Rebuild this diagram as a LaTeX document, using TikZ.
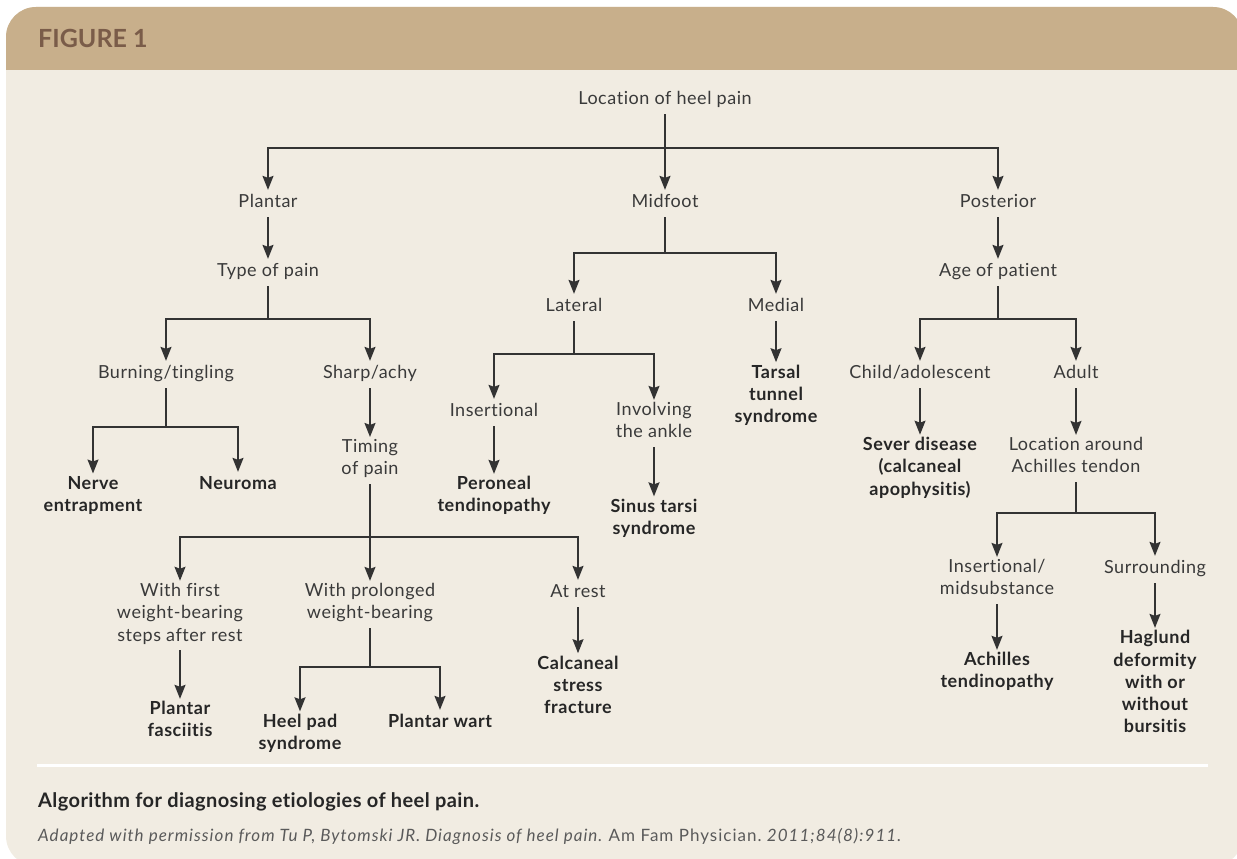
\documentclass[tikz,border=0pt]{standalone}
\usepackage{fontspec}
\setmainfont{Lato}[Ligatures=NoCommon]
\newfontfamily\nodefont{Lato}[LetterSpace=3, Ligatures=NoCommon]
\newfontfamily\capfont{Lato}[LetterSpace=2, Ligatures=NoCommon]
\newfontfamily\citefont{Lato}[LetterSpace=6, Ligatures=NoCommon]
\usetikzlibrary{arrows.meta}
\definecolor{bodybg}{HTML}{F1ECE2}
\definecolor{headbg}{HTML}{C8AF8B}
\definecolor{figc}{HTML}{7A5C49}
\definecolor{txt}{HTML}{3A3A3A}
\definecolor{txtb}{HTML}{262626}
\definecolor{lc}{HTML}{333333}
\definecolor{citec}{HTML}{5A5A5A}
\tikzset{
  n/.style={text=txt, font=\nodefont\fontsize{18}{22.3}\selectfont, align=center, inner sep=2.5pt, outer sep=0pt,
    yshift=-2.5pt, execute at begin node=\strut, execute at end node=\strut},
  nb/.style={n, font=\nodefont\bfseries\fontsize{18}{22.3}\selectfont, text=txtb},
  ln/.style={draw=lc, line width=1.5pt},
  ar/.style={ln, -{Stealth[length=14pt,width=11pt,inset=2pt]}},
}
\begin{document}
\begin{tikzpicture}[x=1pt,y=-1pt]
\useasboundingbox (0,0) rectangle (1237,859);
\clip (0,0) rectangle (1237,859);
% panel
\fill[bodybg, rounded corners=30pt] (6,7) rectangle (1243,866);
\begin{scope}
  \clip (0,0) rectangle (1237,70);
  \fill[headbg, rounded corners=30pt] (6,7) rectangle (1243,866);
\end{scope}
\node[anchor=base west, inner sep=0, text=figc, font=\bfseries\fontsize{25}{30}\selectfont] (fig) at (38,48) {FIGURE 1};
\draw[white, line width=3pt] (37,765) -- (1208,765);
\node[anchor=base west, inner sep=0, text=txtb, font=\capfont\bfseries\fontsize{20}{24}\selectfont] (cap) at (38,807) {Algorithm for diagnosing etiologies of heel pain.};
\node[anchor=base west, inner sep=0, text=citec, font=\citefont\fontsize{17}{20}\selectfont] (cite) at (38,841) {\textit{Adapted with permission from Tu P, Bytomski JR. Diagnosis of heel pain.}\ Am Fam Physician.\ \textit{2011;84(8):911.}};

% nodes
\node[n] (root) at (665,98) {Location of heel pain};
\node[n] (plantar) at (268,201) {Plantar};
\node[n] (midfoot) at (665,201) {Midfoot};
\node[n] (posterior) at (998,201) {Posterior};
\node[n] (type) at (268,270) {Type of pain};
\node[n] (burning) at (166,372) {Burning/tingling};
\node[n] (sharp) at (370,372) {Sharp/achy};
\node[nb] (nerve) at (93,494.5) {Nerve\\entrapment};
\node[nb] (neuroma) at (238,483) {Neuroma};
\node[n] (timing) at (370,458) {Timing\\of pain};
\node[n] (first) at (180,613) {With first\\weight-bearing\\steps after rest};
\node[n] (prolonged) at (370,602) {With prolonged\\weight-bearing};
\node[n] (atrest) at (578,591) {At rest};
\node[nb] (fasciitis) at (180,720) {Plantar\\fasciitis};
\node[nb] (heelpad) at (300,732.5) {Heel pad\\syndrome};
\node[nb] (wart) at (440,721) {Plantar wart};
\node[nb] (fracture) at (578,685.5) {Calcaneal\\stress\\fracture};
\node[n] (lateral) at (574,305) {Lateral};
\node[n] (medial) at (776,305) {Medial};
\node[n] (insertional) at (494,410) {Insertional};
\node[n] (ankle) at (654,421) {Involving\\the ankle};
\node[nb] (peroneal) at (494,495) {Peroneal\\tendinopathy};
\node[nb] (sinus) at (654,517.5) {Sinus tarsi\\syndrome};
\node[nb] (tarsal) at (776,394.5) {Tarsal\\tunnel\\syndrome};
\node[n] (age) at (998,270) {Age of patient};
\node[n] (child) at (920,372) {Child/adolescent};
\node[n] (adult) at (1076,372) {Adult};
\node[nb] (sever) at (920,467) {Sever disease\\(calcaneal\\apophysitis)};
\node[n] (locach) at (1076,456) {Location around\\Achilles tendon};
\node[n] (insmid) at (997,578) {Insertional/\\midsubstance};
\node[n] (surround) at (1155,567) {Surrounding};
\node[nb] (achten) at (997,671) {Achilles\\tendinopathy};
\node[nb] (haglund) at (1155,682.5) {Haglund\\deformity\\with or\\without\\bursitis};

% connectors
\coordinate (s1) at (665,148);
\draw[ln] (root.south) -- (s1);
\draw[ar] (s1) -| (plantar.north);
\draw[ar] (s1) -| (posterior.north);
\draw[ar] (s1) -- (midfoot.north);

\draw[ar] (plantar) -- (type);
\coordinate (s2) at (268,319);
\draw[ln] (type.south) -- (s2);
\draw[ar] (s2) -| (burning.north);
\draw[ar] (s2) -| (sharp.north);

\coordinate (s3) at (166,427);
\draw[ln] (burning.south) -- (s3);
\draw[ar] (s3) -| (nerve.north);
\draw[ar] (s3) -| (neuroma.north);

\draw[ar] (sharp) -- (timing);
\coordinate (s4) at (370,537);
\draw[ln] (timing.south) -- (s4);
\draw[ar] (s4) -| (first.north);
\draw[ar] (s4) -| (atrest.north);
\draw[ar] (s4) -- (prolonged.north);

\draw[ar] (first) -- (fasciitis);
\coordinate (s5) at (370,667);
\draw[ln] (prolonged.south) -- (s5);
\draw[ar] (s5) -| (heelpad.north);
\draw[ar] (s5) -| (wart.north);
\draw[ar] (atrest) -- (fracture);

\coordinate (s6) at (665,253);
\draw[ln] (midfoot.south) -- (s6);
\draw[ar] (s6) -| (lateral.north);
\draw[ar] (s6) -| (medial.north);

\coordinate (s7) at (574,354);
\draw[ln] (lateral.south) -- (s7);
\draw[ar] (s7) -| (insertional.north);
\draw[ar] (s7) -| (ankle.north);
\draw[ar] (insertional) -- (peroneal);
\draw[ar] (ankle) -- (sinus);
\draw[ar] (medial) -- (tarsal);

\draw[ar] (posterior) -- (age);
\coordinate (s8) at (998,319);
\draw[ln] (age.south) -- (s8);
\draw[ar] (s8) -| (child.north);
\draw[ar] (s8) -| (adult.north);
\draw[ar] (child) -- (sever);
\draw[ar] (adult) -- (locach);

\coordinate (s9) at (1076,513);
\draw[ln] (locach.south) -- (s9);
\draw[ar] (s9) -| (insmid.north);
\draw[ar] (s9) -| (surround.north);
\draw[ar] (insmid) -- (achten);
\draw[ar] (surround) -- (haglund);
\end{tikzpicture}
\end{document}
